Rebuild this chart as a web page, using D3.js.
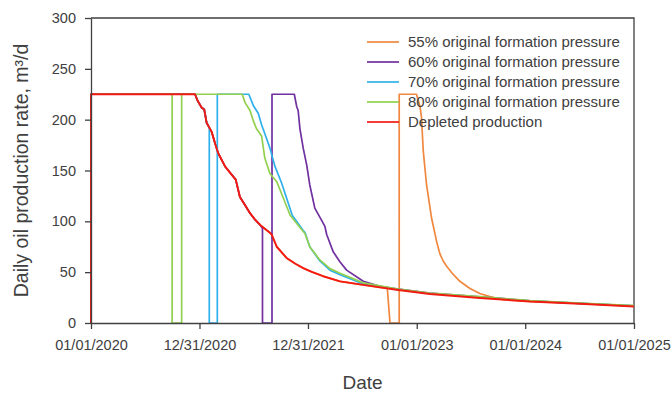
<!DOCTYPE html>
<html>
<head>
<meta charset="utf-8">
<script src="https://cdn.jsdelivr.net/npm/d3@7"></script>
<style>
  body { margin: 0; background: #fff; }
  text { font-family: "Liberation Sans", Arial, sans-serif; fill: #404040; }
</style>
</head>
<body>
<div id="chart"></div>
<script>
// x axis ticks (as printed on the original)
const tickDates = ["2020-01-01", "2020-12-31", "2021-12-31", "2023-01-01", "2024-01-01", "2025-01-01"];
const tickLabels = ["01/01/2020", "12/31/2020", "12/31/2021", "01/01/2023", "01/01/2024", "01/01/2025"];
const yTicks = [0, 50, 100, 150, 200, 250, 300];

const seriesNames = [
    "55% original formation pressure",
    "60% original formation pressure",
    "70% original formation pressure",
    "80% original formation pressure",
    "Depleted production"
];
const seriesColors = ["#F0883F", "#7030A0", "#2FB0EA", "#92D050", "#F21A12"];

// Depleted production
const depletedDates = ["2020-01-01", "2020-01-01", "2020-12-16", "2020-12-24", "2021-01-07", "2021-01-16",
    "2021-01-24", "2021-02-10", "2021-02-21", "2021-03-04", "2021-03-27", "2021-04-18", "2021-05-02",
    "2021-05-16", "2021-06-02", "2021-06-19", "2021-07-05", "2021-07-23", "2021-08-26", "2021-08-31",
    "2021-09-17", "2021-10-20", "2021-11-20", "2021-12-15", "2022-01-15", "2022-02-20", "2022-04-18",
    "2022-07-05", "2022-10-25", "2023-02-14", "2023-08-01", "2024-01-17", "2024-07-03", "2025-01-01"];
const depletedValues = [0, 225, 225, 219, 212, 210, 197, 188, 177, 167, 154, 146, 141, 124, 116, 108,
    102, 96.5, 88.5, 87, 75, 64, 58, 54, 50, 46, 41, 37.5, 32.7, 28.5, 24.6, 21.2, 19, 16.3];

// 80% original formation pressure
const p80Dates = ["2020-01-01", "2020-09-30", "2020-09-30", "2020-11-01", "2020-11-01", "2021-05-24",
    "2021-06-02", "2021-06-19", "2021-06-30", "2021-07-11", "2021-07-28", "2021-08-08", "2021-08-25",
    "2021-09-17", "2021-10-09", "2021-11-01", "2021-12-15", "2021-12-21", "2022-01-06", "2022-02-09",
    "2022-03-15", "2022-04-18", "2022-07-05", "2022-10-25", "2023-02-14", "2023-08-01", "2024-01-17",
    "2024-07-03", "2025-01-01"];
const p80Values = [225, 225, 0, 0, 225, 225, 217, 209, 199, 191, 184, 162, 147, 139, 123, 106, 90, 88,
    75, 62, 53.5, 49, 39.5, 33.5, 29.5, 26, 22, 19.5, 17];

// 70% original formation pressure (on the depleted curve until shut-in)
const p70Leave = "2021-02-02";
const p70Dates = ["2021-02-02", "2021-02-02", "2021-03-01", "2021-03-01", "2021-06-15", "2021-06-30",
    "2021-07-17", "2021-07-28", "2021-08-19", "2021-08-25", "2021-09-11", "2021-10-03", "2021-10-20",
    "2021-11-08", "2021-12-15", "2021-12-21", "2022-01-06", "2022-02-09", "2022-03-15", "2022-04-18",
    "2022-07-05", "2022-10-25", "2023-02-14", "2023-08-01", "2024-01-17", "2024-07-03", "2025-01-01"];
const p70Values = [192, 0, 0, 225, 225, 214, 206, 195, 177, 172, 154, 138, 123, 106, 91, 89, 75, 61,
    52, 47.5, 38.5, 33, 29, 25.5, 21.7, 19.3, 16.8];

// 60% original formation pressure
const p60Leave = "2021-07-31";
const p60Dates = ["2021-07-31", "2021-07-31", "2021-09-01", "2021-09-01", "2021-11-15", "2021-11-23",
    "2021-11-28", "2021-12-04", "2021-12-15", "2021-12-27", "2022-01-06", "2022-01-23", "2022-02-15",
    "2022-02-26", "2022-03-04", "2022-03-26", "2022-04-18", "2022-05-10", "2022-07-05", "2022-08-30",
    "2022-10-25", "2023-02-14", "2023-08-01", "2024-01-17", "2024-07-03", "2025-01-01"];
const p60Values = [93, 0, 0, 225, 225, 213, 209, 191, 172, 155, 136, 113, 101, 95, 87, 70, 60, 52, 41,
    36, 33.5, 29.5, 25.8, 21.8, 19.3, 16.8];

// 55% original formation pressure
const p55Leave = "2022-09-24";
const p55Dates = ["2022-09-24", "2022-10-03", "2022-11-03", "2022-11-03", "2022-12-31", "2023-01-12",
    "2023-01-17", "2023-01-23", "2023-02-03", "2023-02-20", "2023-03-09", "2023-03-20", "2023-03-31",
    "2023-04-11", "2023-05-03", "2023-05-26", "2023-06-29", "2023-08-01", "2023-09-04", "2023-10-19",
    "2024-01-17", "2024-07-03", "2025-01-01"];
const p55Values = [34, 0, 0, 225, 225, 213, 202, 169, 136, 103, 80, 68, 61, 56, 48, 41, 34, 29, 26,
    23, 21.3, 19.2, 16.5];

const parse = d3.utcParse("%Y-%m-%d");
const toPoints = (dates, values) => dates.map((d, i) => ({ date: parse(d), value: values[i] }));

// follower series sit on the depleted curve until they are shut in
function withDepleted(leave, dates, values) {
    const cut = parse(leave);
    const head = toPoints(depletedDates, depletedValues).filter(p => p.date < cut);
    return head.concat(toPoints(dates, values));
}

const series = [
    withDepleted(p55Leave, p55Dates, p55Values),
    withDepleted(p60Leave, p60Dates, p60Values),
    withDepleted(p70Leave, p70Dates, p70Values),
    toPoints(p80Dates, p80Values),
    toPoints(depletedDates, depletedValues)
];

const W = 672, H = 393;
const margin = { top: 18, right: 38, bottom: 70, left: 91 };
const width = W - margin.left - margin.right;
const height = H - margin.top - margin.bottom;

const svg = d3.select("#chart").append("svg")
    .attr("width", W)
    .attr("height", H);

const g = svg.append("g")
    .attr("transform", `translate(${margin.left}, ${margin.top})`);

const x = d3.scaleUtc()
    .domain([parse("2020-01-01"), parse("2025-01-01")])
    .range([0, width]);

const y = d3.scaleLinear()
    .domain([0, 300])
    .range([height, 0]);

// frame (top and right)
g.append("path")
    .attr("d", `M0,0H${width}V${height}`)
    .attr("fill", "none")
    .attr("stroke", "#404040")
    .attr("stroke-width", 1.3);

// lines
const line = d3.line()
    .x(d => x(d.date))
    .y(d => y(d.value));

g.selectAll(".series")
    .data(series)
    .join("path")
    .attr("class", "series")
    .attr("fill", "none")
    .attr("stroke", (d, i) => seriesColors[i])
    .attr("stroke-width", (d, i) => i === 4 ? 1.9 : 1.7)
    .attr("stroke-linejoin", "round")
    .attr("d", line);

// axes
const xAxis = g.append("g")
    .attr("transform", `translate(0, ${height})`)
    .call(d3.axisBottom(x)
        .tickValues(tickDates.map(parse))
        .tickFormat((d, i) => tickLabels[i])
        .tickSize(6)
        .tickSizeOuter(0)
        .tickPadding(11));

const yAxis = g.append("g")
    .call(d3.axisLeft(y)
        .tickValues(yTicks)
        .tickSize(6)
        .tickSizeOuter(0)
        .tickPadding(9));

[xAxis, yAxis].forEach(a => {
    a.select(".domain").attr("stroke", "#404040").attr("stroke-width", 1.3);
    a.selectAll(".tick line").attr("stroke", "#404040").attr("stroke-width", 1.3);
    a.selectAll(".tick text")
        .style("font-family", "'Liberation Sans', Arial, sans-serif")
        .style("font-size", "14.5px")
        .attr("fill", "#404040");
});

// axis titles
svg.append("text")
    .attr("x", margin.left + width / 2)
    .attr("y", 389)
    .attr("text-anchor", "middle")
    .style("font-size", "19px")
    .text("Date");

svg.append("text")
    .attr("transform", `translate(28, ${margin.top + height / 2}) rotate(-90)`)
    .attr("text-anchor", "middle")
    .style("font-size", "19.5px")
    .text("Daily oil production rate, m³/d");

// legend
const legend = svg.append("g")
    .attr("transform", "translate(367, 42)");

const rows = legend.selectAll(".row")
    .data(seriesNames)
    .join("g")
    .attr("class", "row")
    .attr("transform", (d, i) => `translate(0, ${i * 20})`);

rows.append("line")
    .attr("x1", 0)
    .attr("x2", 32)
    .attr("stroke", (d, i) => seriesColors[i])
    .attr("stroke-width", 1.7);

rows.append("text")
    .attr("x", 41)
    .attr("dy", "0.35em")
    .style("font-size", "15px")
    .text(d => d);
</script>
</body>
</html>
